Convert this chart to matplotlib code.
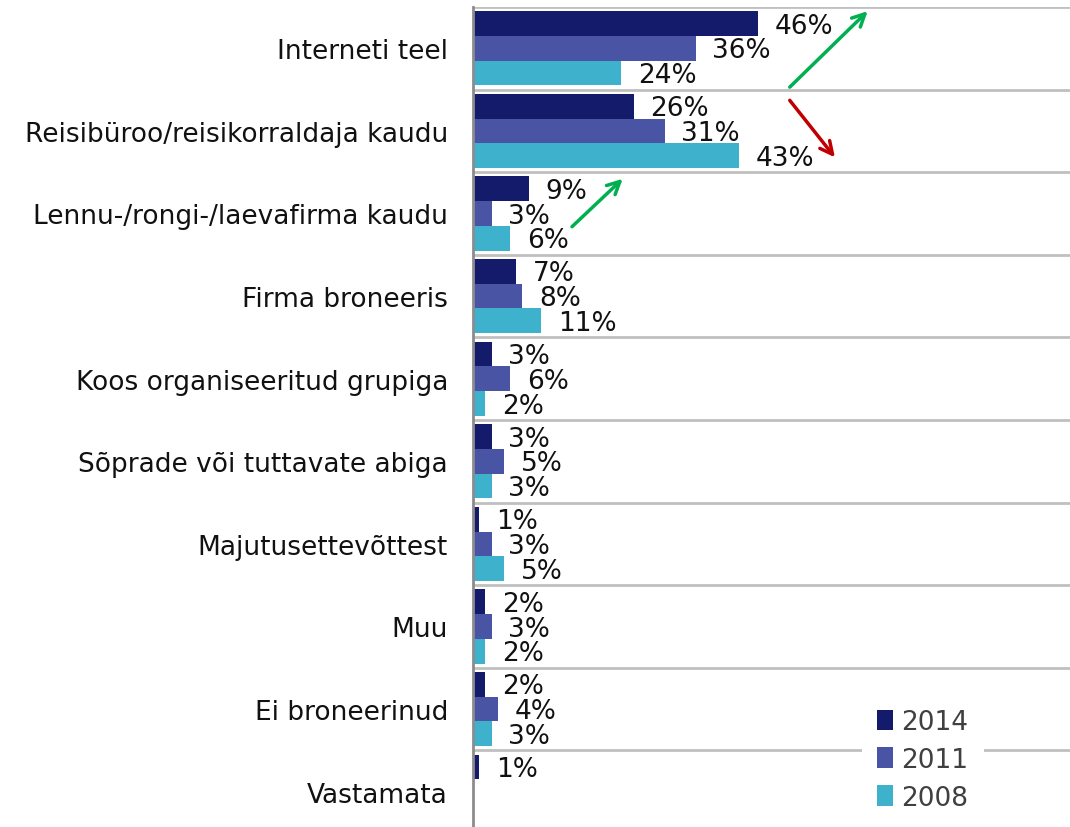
import matplotlib
matplotlib.use("Agg")
import matplotlib.pyplot as plt
import numpy as np
from matplotlib.patches import Patch

categories = ["Interneti teel", "Reisibüroo/reisikorraldaja kaudu",
              "Lennu-/rongi-/laevafirma kaudu", "Firma broneeris",
              "Koos organiseeritud grupiga", "Sõprade või tuttavate abiga",
              "Majutusettevõttest", "Muu", "Ei broneerinud", "Vastamata"]
series_names = ["2014", "2011", "2008"]
v2014 = [46, 26, 9, 7, 3, 3, 1, 2, 2, 1]
v2011 = [36, 31, 3, 8, 6, 5, 3, 3, 4, None]
v2008 = [24, 43, 6, 11, 2, 3, 5, 2, 3, None]
colors = ["#141b6a", "#4a54a5", "#3eb1cd"]

plt.rcParams['font.family'] = ['DejaVu Sans']
FS = 19
fig = plt.figure(figsize=(10.7, 8.28), dpi=100)
top = 1 - 8 / 828
h = 826 / 828
ax = fig.add_axes([473 / 1070, top - h, (1070 - 473) / 1070, h])

n = len(categories)
y = np.arange(n)
bh = 0.30
offsets = [-bh, 0, bh]
for vals, off, c in zip([v2014, v2011, v2008], offsets, colors):
    for i, v in enumerate(vals):
        if v is None:
            continue
        ax.barh(i + off, v, height=bh, color=c, zorder=3)
        ax.annotate(f"{v}%", xy=(v, i + off), xytext=(12, -1.5),
                    textcoords="offset points", va="center", ha="left",
                    fontsize=FS, color="#111111", zorder=4)

ax.set_xlim(0, 96.5)
ax.set_ylim(n - 0.5, -0.5)
ax.set_yticks(y)
ax.set_yticklabels(categories, fontsize=FS, color="#111111")
ax.tick_params(axis="y", length=0, pad=18)
ax.set_xticks([])
for s in ["top", "right", "bottom"]:
    ax.spines[s].set_visible(False)
ax.spines["left"].set_color("#8c8c8c")
ax.spines["left"].set_linewidth(2)
ax.spines["left"].set_zorder(5)

for b in np.arange(-0.5, n - 1, 1.0):
    ax.axhline(b, color="#c0c0c0", lw=2, zorder=1)

# trend arrows
arrow_specs = [((51.2, 0.47), (63.8, -0.45), "#00b050"),
               ((51.2, 0.63), (58.5, 1.32), "#c00000"),
               ((16.0, 2.16), (24.2, 1.58), "#00b050")]
for (x0, y0), (x1, y1), c in arrow_specs:
    ax.annotate("", xy=(x1, y1), xytext=(x0, y0), xycoords="data",
                arrowprops=dict(arrowstyle="->,head_length=0.9,head_width=0.45",
                                color=c, lw=2.5, shrinkA=0, shrinkB=0), zorder=6)

handles = [Patch(facecolor=c, edgecolor="none") for c in colors]
leg = ax.legend(handles, series_names, loc="lower right",
                bbox_to_anchor=(0.878, -0.008), frameon=True, fancybox=False,
                edgecolor="none", facecolor="white", framealpha=1,
                fontsize=FS, handlelength=0.6, handleheight=0.8,
                handletextpad=0.3, labelspacing=0.45, borderpad=0.6)
for t in leg.get_texts():
    t.set_color("#404040")
leg.set_zorder(7)

fig.savefig("out.png", dpi=100)
